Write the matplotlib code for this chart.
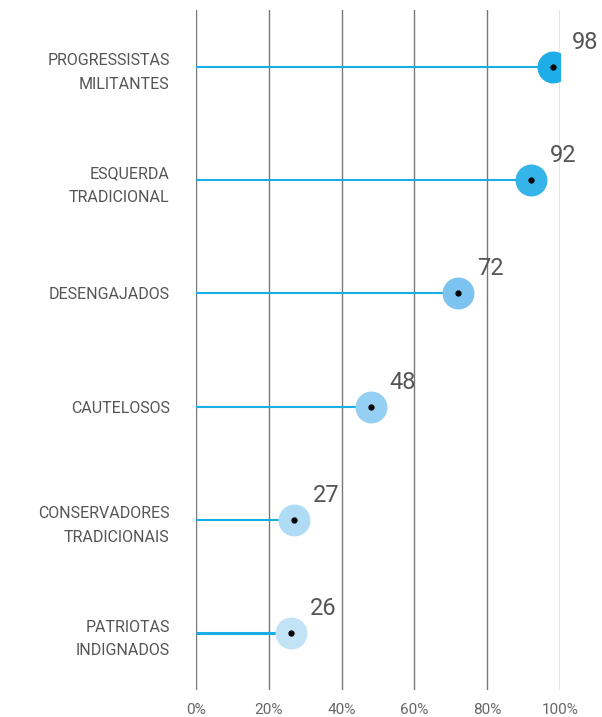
import numpy as np
import matplotlib.pyplot as plt

plt.rcParams['font.family'] = ['Roboto', 'DejaVu Sans']

# data
categories = ['PROGRESSISTAS\nMILITANTES', 'ESQUERDA\nTRADICIONAL', 'DESENGAJADOS',
              'CAUTELOSOS', 'CONSERVADORES\nTRADICIONAIS', 'PATRIOTAS\nINDIGNADOS']
values = [98, 92, 72, 48, 27, 26]
dot_colors = ['#1eaee7', '#35b4ea', '#7cc4ef', '#95d0f4', '#b0dbf5', '#c2e2f6']
xticks = [0, 20, 40, 60, 80, 100]
xtick_labels = ['0%', '20%', '40%', '60%', '80%', '100%']

# stem widths (last one drawn a bit heavier in the original)
stem_lw = [1.5, 1.5, 1.5, 1.5, 1.5, 2.2]

fig = plt.figure(figsize=(6.02, 7.17), dpi=100)
ax = fig.add_axes([196/602, 1-690/717, (560-196)/602, 680/717])

y = np.arange(len(categories))[::-1]

for xv in xticks:
    ax.axvline(xv, color='#777777', lw=1.0, zorder=1)

for yi, v, c, lw in zip(y, values, dot_colors, stem_lw):
    ax.plot([0, v], [yi, yi], color='#1aaee6', lw=lw, zorder=2, solid_capstyle='butt')
    ax.plot(v, yi, 'o', ms=23, color=c, mec='none', zorder=3)
    ax.plot(v, yi, 'o', ms=3.5, color='black', zorder=4)
    ax.annotate(str(v), (v, yi), xytext=(19, 18), textcoords='offset pixels',
                fontsize=17, color='#555555', ha='left', va='baseline',
                annotation_clip=False)

ax.set_xlim(0, 100)
ax.set_ylim(-0.5, 5.5)
ax.set_xticks(xticks)
ax.set_xticklabels(xtick_labels, fontsize=11, color='#666666')
ax.set_yticks(y)
ax.set_yticklabels(categories, fontsize=11.5, color='#555555', linespacing=1.7)
ax.tick_params(axis='both', length=0)
ax.tick_params(axis='x', pad=9)
ax.tick_params(axis='y', pad=19)
for s in ax.spines.values():
    s.set_visible(False)

fig.savefig('out.png', dpi=100)
